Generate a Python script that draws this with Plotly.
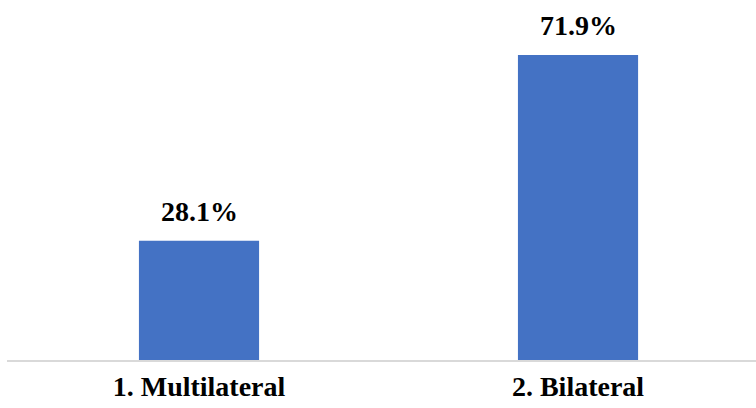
import plotly.graph_objects as go

categories = ["1. Multilateral", "2. Bilateral"]
values = [28.1, 71.9]
labels = ["28.1%", "71.9%"]

fig = go.Figure()
fig.add_trace(go.Bar(
    x=categories, y=values, width=0.317,
    marker=dict(color="#4472C4", line=dict(width=0)),
    hoverinfo="skip",
))
for c, v, t in zip(categories, values, labels):
    fig.add_annotation(x=c, y=v, text=t, showarrow=False, yanchor="bottom", yshift=12,
                       font=dict(family="Liberation Serif", size=28, color="#000000"))

fig.update_layout(
    width=756, height=408,
    margin=dict(l=7, r=0, t=0, b=48, autoexpand=False),
    paper_bgcolor="white", plot_bgcolor="white",
    showlegend=False,
    font=dict(family="Liberation Serif", size=28, color="#000000"),
    xaxis=dict(
        type="category", range=[-0.5066, 1.4696], automargin=False,
        showline=True, linecolor="#d9d9d9", linewidth=2,
        showgrid=False, zeroline=False, ticks="", ticklabelstandoff=0,
        tickfont=dict(family="Liberation Serif", size=28, color="#000000", weight="bold"),
    ),
    yaxis=dict(range=[0, 84.9], visible=False, showgrid=False, zeroline=False, automargin=False),
)
fig.update_annotations(font_weight="bold")
fig.write_html("out.html", config={"displayModeBar": False},
               post_script="document.body.style.margin='0';document.body.style.padding='0';")
